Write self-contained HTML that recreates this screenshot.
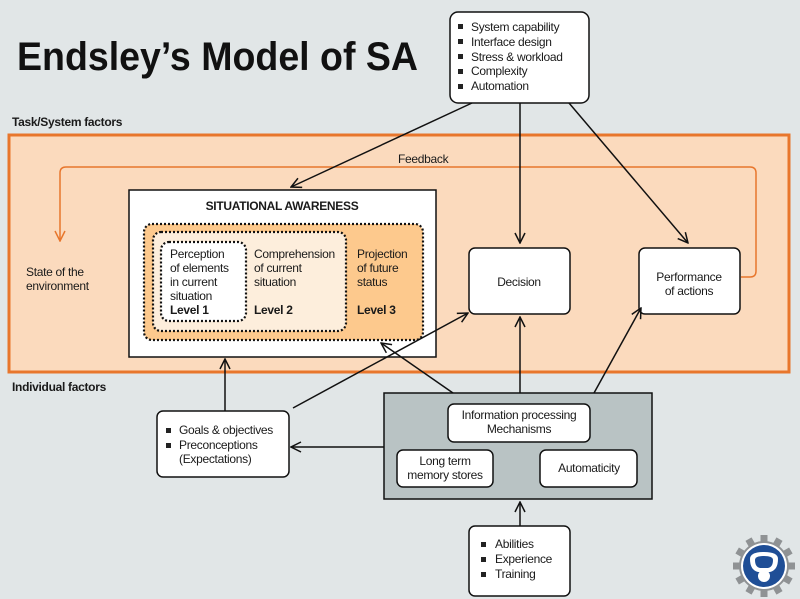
<!DOCTYPE html>
<html><head><meta charset="utf-8"><style>
html,body{margin:0;padding:0;background:#e1e6e7;}
svg{display:block;font-family:"Liberation Sans",sans-serif;}
.t{font-size:12px;fill:#1a1a1a;letter-spacing:-0.3px;}
.b{font-weight:bold;}
</style></head><body>
<svg width="800" height="599" viewBox="0 0 800 599">
<defs>
<marker id="a" viewBox="0 0 12 12" refX="11" refY="6" markerWidth="12" markerHeight="12" markerUnits="userSpaceOnUse" orient="auto"><path d="M1,1 L11,6 L1,11" fill="none" stroke="#111" stroke-width="1.5"/></marker>
<marker id="o" viewBox="0 0 12 12" refX="11" refY="6" markerWidth="12" markerHeight="12" markerUnits="userSpaceOnUse" orient="auto"><path d="M1,1 L11,6 L1,11" fill="none" stroke="#e8762c" stroke-width="1.5"/></marker>
</defs>
<rect width="800" height="599" fill="#e1e6e7"/>
<text x="17" y="70" font-size="40" font-weight="bold" fill="#111" textLength="401" lengthAdjust="spacingAndGlyphs">Endsley’s Model of SA</text>
<text x="12" y="126" class="t b" font-size="12">Task/System factors</text>
<rect x="9" y="135" width="780" height="237" fill="#fbdabd" stroke="#e8762c" stroke-width="3"/>
<text x="12" y="391" class="t b">Individual factors</text>

<path d="M741,277 H750 Q756,277 756,271 V173 Q756,167 750,167 H66 Q60,167 60,173 V241" fill="none" stroke="#e8762c" stroke-width="1.5" marker-end="url(#o)"/>
<text x="398" y="163" class="t">Feedback</text>
<text x="26" y="276" class="t">State of the</text>
<text x="26" y="290" class="t">environment</text>

<rect x="129" y="190" width="307" height="167" fill="#fff" stroke="#111" stroke-width="1.5"/>
<text x="282" y="210" class="t b" text-anchor="middle">SITUATIONAL AWARENESS</text>
<rect x="144" y="224" width="279" height="116" rx="8" fill="#fdc98d" stroke="#111" stroke-width="2.2" stroke-dasharray="2,2"/>
<rect x="153" y="232" width="193" height="99" rx="8" fill="#fdeedc" stroke="#111" stroke-width="2.2" stroke-dasharray="2,2"/>
<rect x="161" y="242" width="85" height="79" rx="8" fill="#fff" stroke="#111" stroke-width="2.2" stroke-dasharray="2,2"/>
<text class="t" x="170" y="258">Perception<tspan x="170" dy="14">of elements</tspan><tspan x="170" dy="14">in current</tspan><tspan x="170" dy="14">situation</tspan><tspan x="170" dy="14" class="b">Level 1</tspan></text>
<text class="t" x="254" y="258">Comprehension<tspan x="254" dy="14">of current</tspan><tspan x="254" dy="14">situation</tspan><tspan x="254" dy="28" class="b">Level 2</tspan></text>
<text class="t" x="357" y="258">Projection<tspan x="357" dy="14">of future</tspan><tspan x="357" dy="14">status</tspan><tspan x="357" dy="28" class="b">Level 3</tspan></text>

<rect x="469" y="248" width="101" height="66" rx="6" fill="#fff" stroke="#111" stroke-width="1.5"/>
<text x="519" y="286" class="t" text-anchor="middle">Decision</text>
<rect x="639" y="248" width="101" height="66" rx="6" fill="#fff" stroke="#111" stroke-width="1.5"/>
<text x="689" y="281" class="t" text-anchor="middle">Performance</text>
<text x="689" y="295" class="t" text-anchor="middle">of actions</text>

<rect x="450" y="12" width="139" height="91" rx="8" fill="#fff" stroke="#111" stroke-width="1.5"/>
<rect x="458" y="24" width="5" height="5" fill="#222"/><text x="471" y="31" class="t">System capability</text>
<rect x="458" y="39" width="5" height="5" fill="#222"/><text x="471" y="46" class="t">Interface design</text>
<rect x="458" y="54" width="5" height="5" fill="#222"/><text x="471" y="61" class="t">Stress &amp; workload</text>
<rect x="458" y="69" width="5" height="5" fill="#222"/><text x="471" y="75" class="t">Complexity</text>
<rect x="458" y="84" width="5" height="5" fill="#222"/><text x="471" y="90" class="t">Automation</text>

<rect x="384" y="393" width="268" height="106" fill="#b9c3c4" stroke="#111" stroke-width="1.5"/>
<rect x="448" y="404" width="142" height="38" rx="6" fill="#fff" stroke="#111" stroke-width="1.5"/>
<text x="519" y="419" class="t" text-anchor="middle">Information processing</text>
<text x="519" y="433" class="t" text-anchor="middle">Mechanisms</text>
<rect x="397" y="450" width="96" height="37" rx="6" fill="#fff" stroke="#111" stroke-width="1.5"/>
<text x="445" y="465" class="t" text-anchor="middle">Long term</text>
<text x="445" y="479" class="t" text-anchor="middle">memory stores</text>
<rect x="540" y="450" width="97" height="37" rx="6" fill="#fff" stroke="#111" stroke-width="1.5"/>
<text x="589" y="472" class="t" text-anchor="middle">Automaticity</text>

<rect x="157" y="411" width="132" height="66" rx="6" fill="#fff" stroke="#111" stroke-width="1.5"/>
<rect x="166" y="428" width="5" height="5" fill="#222"/><text x="179" y="434" class="t">Goals &amp; objectives</text>
<rect x="166" y="443" width="5" height="5" fill="#222"/><text x="179" y="449" class="t">Preconceptions</text>
<text x="179" y="463" class="t">(Expectations)</text>

<rect x="469" y="526" width="101" height="70" rx="6" fill="#fff" stroke="#111" stroke-width="1.5"/>
<rect x="481" y="542" width="5" height="5" fill="#222"/><text x="495" y="548" class="t">Abilities</text>
<rect x="481" y="557" width="5" height="5" fill="#222"/><text x="495" y="563" class="t">Experience</text>
<rect x="481" y="572" width="5" height="5" fill="#222"/><text x="495" y="578" class="t">Training</text>

<g stroke="#111" stroke-width="1.5" fill="none">
<line x1="472" y1="103" x2="291" y2="187" marker-end="url(#a)"/>
<line x1="520" y1="103" x2="520" y2="243" marker-end="url(#a)"/>
<line x1="569" y1="103" x2="688" y2="243" marker-end="url(#a)"/>
<line x1="225" y1="411" x2="225" y2="359" marker-end="url(#a)"/>
<line x1="293" y1="408" x2="468" y2="313" marker-end="url(#a)"/>
<line x1="453" y1="393" x2="381" y2="343" marker-end="url(#a)"/>
<line x1="520" y1="393" x2="520" y2="317" marker-end="url(#a)"/>
<line x1="594" y1="393" x2="641" y2="308" marker-end="url(#a)"/>
<line x1="384" y1="447" x2="291" y2="447" marker-end="url(#a)"/>
<line x1="520" y1="526" x2="520" y2="502" marker-end="url(#a)"/>
</g>

<g transform="translate(764,566)">
<g fill="#8f9294">
<circle r="25"/>
<g id="tooth"><rect x="-3.5" y="-31" width="7" height="9"/></g>
<use href="#tooth" transform="rotate(30)"/><use href="#tooth" transform="rotate(60)"/><use href="#tooth" transform="rotate(90)"/><use href="#tooth" transform="rotate(120)"/><use href="#tooth" transform="rotate(150)"/><use href="#tooth" transform="rotate(180)"/><use href="#tooth" transform="rotate(210)"/><use href="#tooth" transform="rotate(240)"/><use href="#tooth" transform="rotate(270)"/><use href="#tooth" transform="rotate(300)"/><use href="#tooth" transform="rotate(330)"/>
</g>
<circle r="23" fill="#fff"/>
<circle r="21" fill="#1f4e96"/>
<path d="M-14,-7 Q-14,-14 0,-14 Q14,-14 14,-7 Q14,4 6,6 L-6,6 Q-14,4 -14,-7Z" fill="#fff"/>
<path d="M-9,-6 Q-9,-10 0,-10 Q9,-10 9,-6 Q9,1 4,2 L-4,2 Q-9,1 -9,-6Z" fill="#1f4e96"/>
<circle cy="10" r="6" fill="#fff"/>
</g>
</svg>
</body></html>
